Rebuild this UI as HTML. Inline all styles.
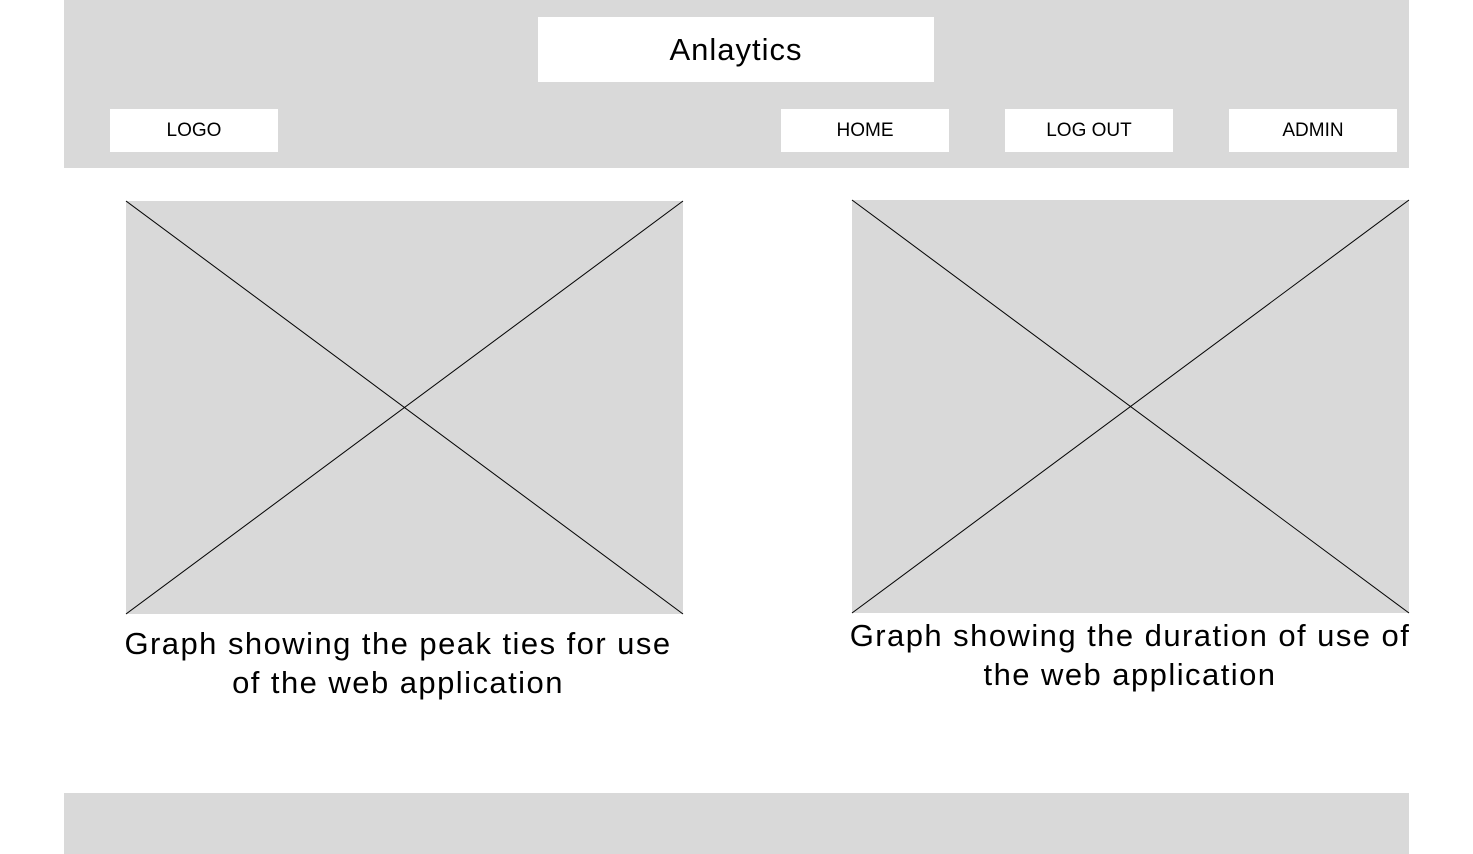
<!DOCTYPE html>
<html><head><style>
body{margin:0;width:1473px;height:854px;background:#fff;position:relative;overflow:hidden;font-family:"Liberation Sans",sans-serif;}
.a{position:absolute}
.g{background:#d9d9d9}
.w{background:#fff;display:flex;align-items:center;justify-content:center;color:#000}
.t{text-align:center;font-size:31px;line-height:39px;color:#000;letter-spacing:1.45px}
</style></head><body>
<div class="a g" style="left:64px;top:0;width:1345px;height:168px"></div>
<div class="a w" style="left:538px;top:17px;width:396px;height:65px;font-size:31px;letter-spacing:1px">Anlaytics</div>
<div class="a w" style="left:110px;top:109px;width:168px;height:43px;font-size:19px">LOGO</div>
<div class="a w" style="left:781px;top:109px;width:168px;height:43px;font-size:19px">HOME</div>
<div class="a w" style="left:1005px;top:109px;width:168px;height:43px;font-size:19px">LOG OUT</div>
<div class="a w" style="left:1229px;top:109px;width:168px;height:43px;font-size:19px">ADMIN</div>
<svg class="a" style="left:0;top:0" width="1473" height="854">
<rect x="126" y="201" width="557" height="413" fill="#d9d9d9"/>
<line x1="126" y1="201" x2="683" y2="614" stroke="#000" stroke-width="1"/>
<line x1="683" y1="201" x2="126" y2="614" stroke="#000" stroke-width="1"/>
<rect x="852" y="200" width="557" height="413" fill="#d9d9d9"/>
<line x1="852" y1="200" x2="1409" y2="613" stroke="#000" stroke-width="1"/>
<line x1="1409" y1="200" x2="852" y2="613" stroke="#000" stroke-width="1"/>
</svg>
<div class="a t" style="left:118px;top:624px;width:560px">Graph showing the peak ties for use of the web application</div>
<div class="a t" style="left:840px;top:616px;width:580px">Graph showing the duration of use of the web application</div>
<div class="a g" style="left:64px;top:793px;width:1345px;height:61px"></div>
</body></html>
